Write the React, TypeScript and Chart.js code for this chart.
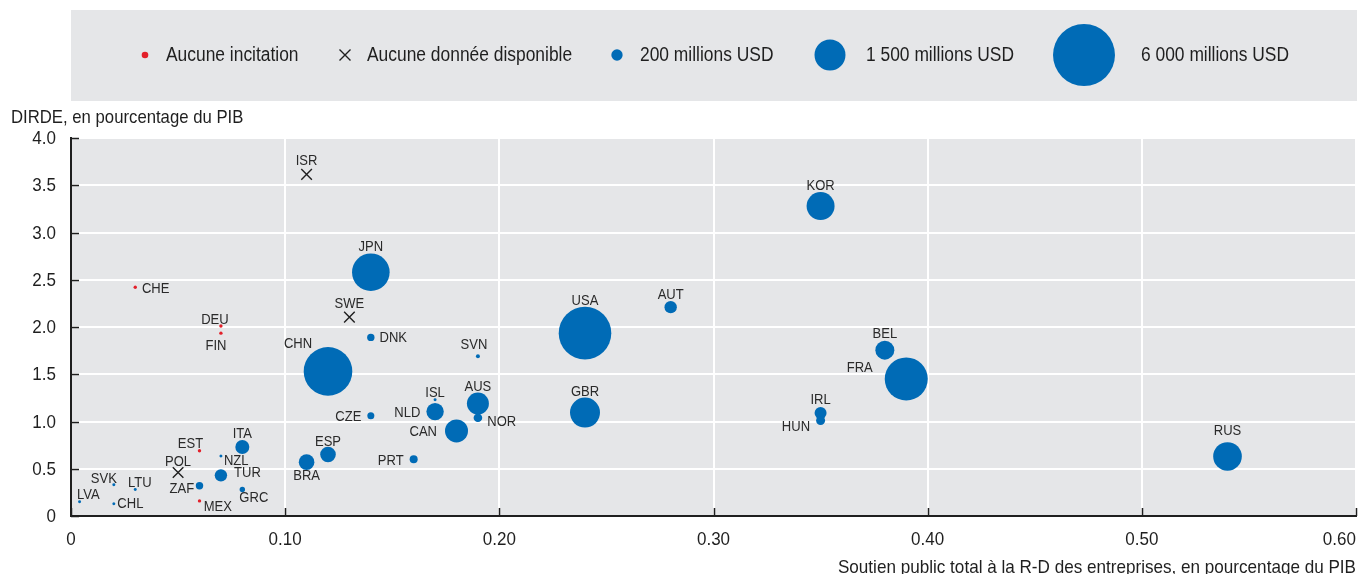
import React, { useEffect, useRef } from 'react';
import { Chart, registerables } from 'chart.js';

Chart.register(...registerables);

const FONT = "'Liberation Sans', Arial, sans-serif";

// ---------- DATA ----------
// Countries with public support (bubble size = total support, millions USD)
const bubbleCodes = ['USA', 'CHN', 'FRA', 'JPN', 'GBR', 'KOR', 'RUS', 'CAN', 'AUS', 'BEL', 'NLD', 'ESP', 'BRA', 'ITA', 'TUR', 'AUT', 'IRL', 'HUN', 'NOR', 'PRT', 'DNK', 'ZAF', 'CZE', 'GRC', 'SVN', 'ISL', 'NZL', 'LTU', 'SVK', 'CHL', 'LVA'];
const bubbleSupport = [0.24, 0.12, 0.39, 0.14, 0.24, 0.35, 0.54, 0.18, 0.19, 0.38, 0.17, 0.12, 0.11, 0.08, 0.07, 0.28, 0.35, 0.35, 0.19, 0.16, 0.14, 0.06, 0.14, 0.08, 0.19, 0.17, 0.07, 0.03, 0.02, 0.02, 0.004];
const bubbleBerd = [1.935, 1.53, 1.45, 2.58, 1.094, 3.28, 0.63, 0.9, 1.19, 1.755, 1.105, 0.65, 0.57, 0.73, 0.43, 2.21, 1.09, 1.01, 1.04, 0.6, 1.89, 0.32, 1.06, 0.28, 1.69, 1.23, 0.635, 0.28, 0.33, 0.13, 0.15];
const bubbleUsdMillions = [4320, 3690, 2890, 2210, 1406, 1225, 1280, 827, 756, 564, 473, 380, 380, 306, 240, 240, 225, 127, 116, 100, 86, 86, 77, 46, 25, 14, 14, 14, 14, 14, 14];

// Countries without incentives
const noIncentiveCodes = ['CHE', 'DEU', 'FIN', 'EST', 'MEX'];
const noIncentiveSupport = [0.03, 0.07, 0.07, 0.06, 0.06];
const noIncentiveBerd = [2.42, 2.01, 1.935, 0.69, 0.16];

// Countries without data
const noDataCodes = ['ISR', 'SWE', 'POL'];
const noDataSupport = [0.11, 0.13, 0.05];
const noDataBerd = [3.615, 2.105, 0.46];

const legendLabels = ['Aucune incitation', 'Aucune donnée disponible', '200 millions USD', '1 500 millions USD', '6 000 millions USD'];
const legendUsdMillions = [200, 1500, 6000];

const yAxisTitle = 'DIRDE, en pourcentage du PIB';
const xAxisTitle = 'Soutien public total à la R-D des entreprises, en pourcentage du PIB';

// ---------- STYLE ----------
const BLUE = '#006bb6';
const RED = '#e3202a';
const INK = '#1f1f1f';
const LABEL_INK = '#2a2a2a';
const PANEL = '#e5e6e8';
const DOT_R = 1.7;
const CROSS_R = 7.5;
const CROSS_LABEL_R = 6;
const radiusFor = (usd: number) => 0.4 * Math.sqrt(usd);

// label placement: [side, dx, dy]
const labelPlacement: Record<string, [string, number, number]> = {
  CHE: ['right', 0, 0], DEU: ['top', -6, 2.5], FIN: ['bottom', -5, 5], ISR: ['top', 0, 0], SWE: ['top', 0, 0],
  JPN: ['top', 0, 1], DNK: ['right', 0, -1], CHN: ['top', -30, 4], SVN: ['top', -4, -2.5], USA: ['top', 0, 1],
  AUT: ['top', 0, 1], KOR: ['top', 0, 1], BEL: ['top', 0, 0.5], FRA: ['left', -6, -12], IRL: ['top', 0, 0],
  HUN: ['left', 0, 4.5], RUS: ['top', 0, -4], GBR: ['top', 0, 1], ISL: ['top', 0, 2], NLD: ['left', 0, 0],
  AUS: ['top', 0, 1.7], NOR: ['right', 0, 3], CAN: ['left', -2, 0], CZE: ['left', 0, 0], ESP: ['top', 0, 2],
  BRA: ['bottom', 0, 0], PRT: ['left', 0, 0], ITA: ['top', 0, 0.5], NZL: ['right', -3.5, 3.5], TUR: ['right', 2, -4],
  GRC: ['bottom', 11.5, 0], ZAF: ['left', 4.4, 2], MEX: ['right', -2.5, 5], EST: ['top', -9, 2], POL: ['top', 0, 2],
  SVK: ['top', -10, 3], LTU: ['top', 4.5, 2], LVA: ['top', 8.7, 2], CHL: ['right', -3, -1],
};

// legend layout (marker centre x, text start x)
const legendMarkerX = [145, 345, 617, 830, 1084];
const legendTextX = [166, 367, 640, 866, 1141];

// condensed text: regular sans squeezed horizontally
const drawText = (
  ctx: CanvasRenderingContext2D,
  text: string,
  x: number,
  y: number,
  size: number,
  sx: number,
  align: 'left' | 'center' | 'right',
) => {
  ctx.save();
  ctx.font = `${size}px ${FONT}`;
  ctx.textAlign = 'left';
  ctx.textBaseline = 'alphabetic';
  const w = ctx.measureText(text).width * sx;
  const left = align === 'center' ? x - w / 2 : align === 'right' ? x - w : x;
  ctx.translate(left, y);
  ctx.scale(sx, 1);
  ctx.fillText(text, 0, 0);
  ctx.restore();
};

const drawCross = (ctx: CanvasRenderingContext2D, x: number, y: number, h: number) => {
  ctx.beginPath();
  ctx.moveTo(x - h, y - h);
  ctx.lineTo(x + h, y + h);
  ctx.moveTo(x + h, y - h);
  ctx.lineTo(x - h, y + h);
  ctx.stroke();
};

const LABEL_SIZE = 15.5;
const LABEL_SX = 0.84;
const TICK_SIZE = 18.5;
const TICK_SX = 0.92;
const TITLE_SIZE = 19;
const TITLE_SX = 0.88;
const XTITLE_SX = 0.9;
const LEGEND_SIZE = 20;
const LEGEND_SX = 0.87;

const chromePlugin = {
  id: 'chrome',
  beforeDraw(chart: any) {
    const { ctx, chartArea: a } = chart;
    ctx.save();
    ctx.fillStyle = PANEL;
    ctx.fillRect(71, 10, 1286, 91);
    ctx.fillRect(a.left, a.top, a.right - a.left, a.bottom - a.top);
    ctx.restore();
  },
  afterDatasetsDraw(chart: any) {
    const { ctx } = chart;
    const groups = [
      { codes: bubbleCodes, ds: 0, r: (i: number) => radiusFor(bubbleUsdMillions[i]) },
      { codes: noIncentiveCodes, ds: 1, r: () => DOT_R },
      { codes: noDataCodes, ds: 2, r: () => CROSS_LABEL_R },
    ];
    ctx.save();
    ctx.fillStyle = LABEL_INK;
    const capH = 11;
    groups.forEach((g) => {
      const meta = chart.getDatasetMeta(g.ds);
      meta.data.forEach((el: any, i: number) => {
        const code = g.codes[i];
        const [side, dx, dy] = labelPlacement[code] ?? ['top', 0, 0];
        const r = g.r(i);
        let tx = el.x;
        let ty = el.y;
        let align: 'left' | 'center' | 'right' = 'center';
        if (side === 'top') { ty = el.y - r - 3; }
        else if (side === 'bottom') { ty = el.y + r - 1 + capH; }
        else if (side === 'left') { align = 'right'; tx = el.x - r - 6; ty = el.y + capH / 2; }
        else { align = 'left'; tx = el.x + r + 5; ty = el.y + capH / 2; }
        drawText(ctx, code, tx + dx, ty + dy, LABEL_SIZE, LABEL_SX, align);
      });
    });
    ctx.restore();
  },
  afterDraw(chart: any) {
    const { ctx, chartArea: a } = chart;
    const xs = chart.scales.x;
    const ys = chart.scales.y;
    ctx.save();
    // inward ticks
    ctx.strokeStyle = INK;
    ctx.lineWidth = 1.5;
    ys.ticks.forEach((t: any) => {
      const py = Math.round(ys.getPixelForValue(t.value)) + 0.5;
      ctx.beginPath();
      ctx.moveTo(a.left, py);
      ctx.lineTo(a.left + 8, py);
      ctx.stroke();
    });
    xs.ticks.forEach((t: any) => {
      const px = Math.round(xs.getPixelForValue(t.value)) + 0.5;
      ctx.beginPath();
      ctx.moveTo(px, a.bottom);
      ctx.lineTo(px, a.bottom - 8);
      ctx.stroke();
    });
    ctx.fillStyle = INK;
    // y tick labels
    ys.ticks.forEach((t: any) => {
      const py = ys.getPixelForValue(t.value);
      const label = t.value === 0 ? '0' : t.value.toFixed(1);
      drawText(ctx, label, a.left - 15, py + 6, TICK_SIZE, TICK_SX, 'right');
    });
    // x tick labels
    xs.ticks.forEach((t: any, i: number) => {
      const px = xs.getPixelForValue(t.value);
      const label = t.value === 0 ? '0' : t.value.toFixed(2);
      drawText(ctx, label, px, 545, TICK_SIZE, TICK_SX, i === xs.ticks.length - 1 ? 'right' : 'center');
    });
    // axis titles
    drawText(ctx, yAxisTitle, 11, 123, TITLE_SIZE, TITLE_SX, 'left');
    drawText(ctx, xAxisTitle, a.right, 573, TITLE_SIZE, XTITLE_SX, 'right');
    // legend
    const cy = 55;
    ctx.fillStyle = RED;
    ctx.beginPath();
    ctx.arc(legendMarkerX[0], cy, 3.3, 0, Math.PI * 2);
    ctx.fill();
    ctx.strokeStyle = INK;
    ctx.lineWidth = 1.4;
    drawCross(ctx, legendMarkerX[1], cy, 5.5);
    ctx.fillStyle = BLUE;
    legendUsdMillions.forEach((usd, k) => {
      ctx.beginPath();
      ctx.arc(legendMarkerX[k + 2], cy, radiusFor(usd), 0, Math.PI * 2);
      ctx.fill();
    });
    ctx.fillStyle = INK;
    legendLabels.forEach((lab, k) => drawText(ctx, lab, legendTextX[k], 61, LEGEND_SIZE, LEGEND_SX, 'left'));
    ctx.restore();
  },
};

export default function App() {
  const ref = useRef<HTMLCanvasElement | null>(null);
  useEffect(() => {
    if (!ref.current) return;
    const chart = new Chart(ref.current, {
      type: 'scatter',
      data: {
        datasets: [
          {
            label: 'support',
            data: bubbleCodes.map((_, i) => ({ x: bubbleSupport[i], y: bubbleBerd[i] })),
            backgroundColor: BLUE,
            borderWidth: 0,
            pointRadius: (c: any) => radiusFor(bubbleUsdMillions[c.dataIndex] ?? 0),
            pointHoverRadius: (c: any) => radiusFor(bubbleUsdMillions[c.dataIndex] ?? 0),
          },
          {
            label: 'none',
            data: noIncentiveCodes.map((_, i) => ({ x: noIncentiveSupport[i], y: noIncentiveBerd[i] })),
            backgroundColor: RED,
            borderWidth: 0,
            pointRadius: DOT_R,
          },
          {
            label: 'na',
            data: noDataCodes.map((_, i) => ({ x: noDataSupport[i], y: noDataBerd[i] })),
            pointStyle: 'crossRot',
            borderColor: INK,
            borderWidth: 1.4,
            pointRadius: CROSS_R,
          },
        ],
      },
      options: {
        responsive: false,
        animation: false,
        events: [],
        layout: { autoPadding: false, padding: { top: 138, right: 4, left: 0, bottom: 0 } },
        plugins: { legend: { display: false }, tooltip: { enabled: false } },
        scales: {
          x: {
            type: 'linear',
            min: 0,
            max: 0.6,
            ticks: { stepSize: 0.1, display: false },
            grid: { color: '#ffffff', lineWidth: 2, drawTicks: false },
            border: { color: INK, width: 2 },
            afterFit: (s: any) => { s.height = 58; s.paddingLeft = 0; s.paddingRight = 0; },
          },
          y: {
            type: 'linear',
            min: 0,
            max: 4,
            ticks: { stepSize: 0.5, display: false },
            grid: { color: '#ffffff', lineWidth: 2, drawTicks: false },
            border: { color: INK, width: 2 },
            afterFit: (s: any) => { s.width = 71; s.paddingTop = 0; s.paddingBottom = 0; },
          },
        },
      } as any,
      plugins: [chromePlugin],
    });
    return () => chart.destroy();
  }, []);
  return (
    <div style={{ position: 'absolute', left: 0, top: 0, width: 1360, height: 574 }}>
      <canvas ref={ref} width={1360} height={574} style={{ display: 'block' }} />
    </div>
  );
}
